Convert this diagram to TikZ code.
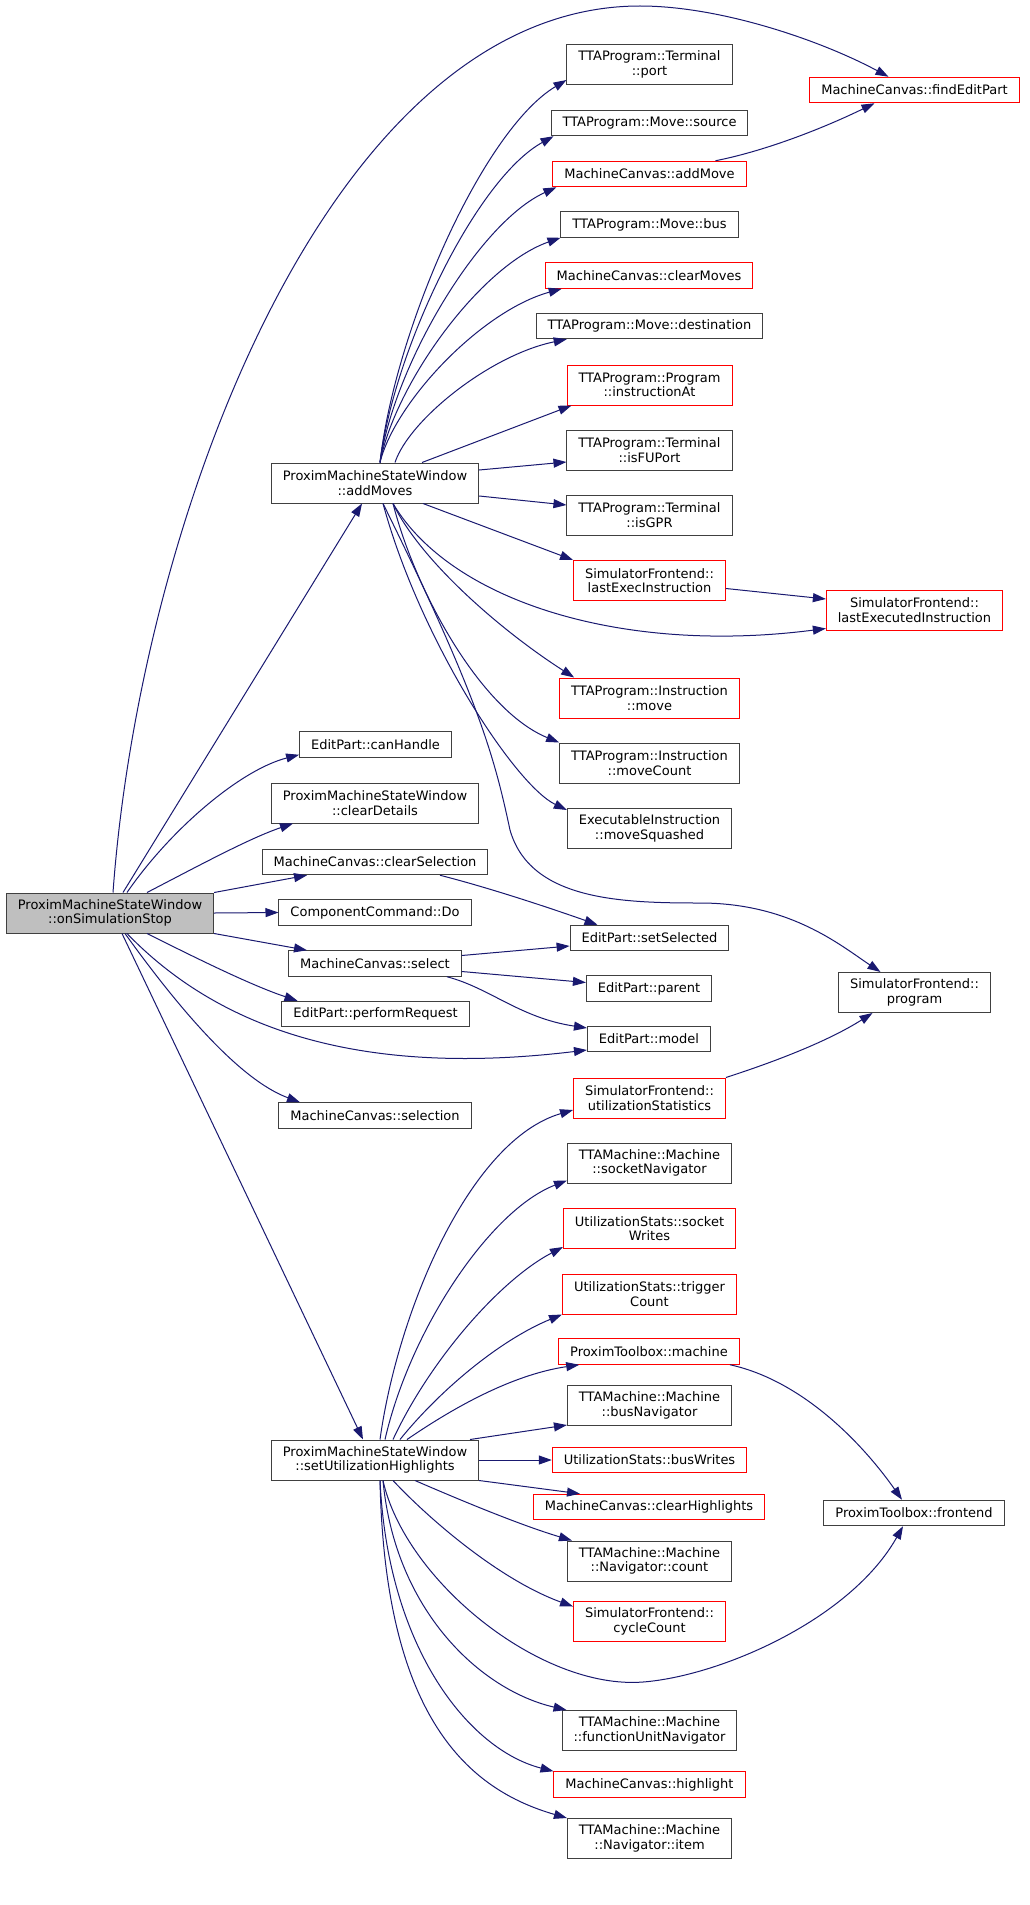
\documentclass[tikz,border=0pt]{standalone}
\usepackage{fontspec}
\setmainfont{DejaVu Sans}
\usepackage{tikz}
\usetikzlibrary{arrows.meta}

\definecolor{edgeblue}{RGB}{25,25,112}
\definecolor{nodeborder}{RGB}{64,64,64}
\definecolor{rootfill}{RGB}{191,191,191}

\begin{document}
\begin{tikzpicture}[x=1pt, y=-1pt,
            fn/.style={draw=nodeborder, line width=1pt, fill=white, inner xsep=11.5pt, inner ysep=2pt,
                minimum height=25.5pt, align=center, font=\fontsize{13}{14.7}\selectfont},
            fnred/.style={fn, draw=red},
            twoline/.style={minimum height=40pt},
            call/.style={edgeblue, line width=1pt, -{Triangle[length=13pt, width=9pt]}}]
            % Canvas
            \fill[white] (0,0) rectangle (1029,1905);
            \useasboundingbox (0,0) rectangle (1029,1905);

            % Caller and its direct callees
            \node[fn, twoline, fill=rootfill] (root) at (110,913) {ProximMachineStateWindow\\::onSimulationStop};
            \node[fn, twoline] (addMoves) at (375,483) {ProximMachineStateWindow\\::addMoves};
            \node[fn] (canHandle) at (375.5,744.5) {EditPart::canHandle};
            \node[fn, twoline] (clearDetails) at (375,803) {ProximMachineStateWindow\\::clearDetails};
            \node[fn] (clearSel) at (375,862) {MachineCanvas::clearSelection};
            \node[fn] (doCmd) at (375,912.5) {ComponentCommand::Do};
            \node[fn] (select) at (375,963.5) {MachineCanvas::select};
            \node[fn] (perfReq) at (375.5,1014) {EditPart::performRequest};
            \node[fn] (selection) at (375,1115.5) {MachineCanvas::selection};
            \node[fn, twoline] (setUtil) at (375,1460) {ProximMachineStateWindow\\::setUtilizationHighlights};

            % Second column
            \node[fn, twoline] (port) at (649.5,64.5) {TTAProgram::Terminal\\::port};
            \node[fn] (source) at (649.5,123) {TTAProgram::Move::source};
            \node[fnred] (addMove) at (649.5,174) {MachineCanvas::addMove};
            \node[fn] (bus) at (649.5,224.5) {TTAProgram::Move::bus};
            \node[fnred] (clearMoves) at (649,275.5) {MachineCanvas::clearMoves};
            \node[fn] (dest) at (649.5,326) {TTAProgram::Move::destination};
            \node[fnred, twoline] (instrAt) at (649.5,385) {TTAProgram::Program\\::instructionAt};
            \node[fn, twoline] (isFUPort) at (649.5,450) {TTAProgram::Terminal\\::isFUPort};
            \node[fn, twoline] (isGPR) at (649.5,515) {TTAProgram::Terminal\\::isGPR};
            \node[fnred, twoline] (lastExec) at (649.5,580.5) {SimulatorFrontend::\\lastExecInstruction};
            \node[fnred, twoline] (instrMove) at (649.5,698) {TTAProgram::Instruction\\::move};
            \node[fn, twoline] (moveCount) at (649.5,763) {TTAProgram::Instruction\\::moveCount};
            \node[fn, twoline] (moveSquashed) at (649.5,828.5) {ExecutableInstruction\\::moveSquashed};
            \node[fn] (setSelected) at (649.5,938) {EditPart::setSelected};
            \node[fn] (parent) at (649,988.5) {EditPart::parent};
            \node[fn] (model) at (649,1039) {EditPart::model};
            \node[fnred, twoline] (utilStats) at (649.5,1098) {SimulatorFrontend::\\utilizationStatistics};
            \node[fn, twoline] (socketNav) at (649.5,1163) {TTAMachine::Machine\\::socketNavigator};
            \node[fnred, twoline] (socketWrites) at (649.5,1228.5) {UtilizationStats::socket\\Writes};
            \node[fnred, twoline] (triggerCount) at (649.5,1294) {UtilizationStats::trigger\\Count};
            \node[fnred] (machine) at (649,1351.5) {ProximToolbox::machine};
            \node[fn, twoline] (busNav) at (649.5,1405.5) {TTAMachine::Machine\\::busNavigator};
            \node[fnred] (busWrites) at (649.5,1460) {UtilizationStats::busWrites};
            \node[fnred] (clearHl) at (649,1507) {MachineCanvas::clearHighlights};
            \node[fn, twoline] (navCount) at (649.5,1561) {TTAMachine::Machine\\::Navigator::count};
            \node[fnred, twoline] (cycleCount) at (649.5,1621.5) {SimulatorFrontend::\\cycleCount};
            \node[fn, twoline] (fuNav) at (649.5,1730.5) {TTAMachine::Machine\\::functionUnitNavigator};
            \node[fnred] (highlight) at (649.5,1784.5) {MachineCanvas::highlight};
            \node[fn, twoline] (navItem) at (649.5,1838.5) {TTAMachine::Machine\\::Navigator::item};

            % Third column
            \node[fnred] (findEditPart) at (914.5,90) {MachineCanvas::findEditPart};
            \node[fnred, twoline] (lastExecuted) at (914.5,610) {SimulatorFrontend::\\lastExecutedInstruction};
            \node[fn, twoline] (program) at (914.5,992.5) {SimulatorFrontend::\\program};
            \node[fn] (frontend) at (914,1513) {ProximToolbox::frontend};

            % Calls from onSimulationStop
            \draw[call] ([xshift=3pt]root.north) .. controls (140,520) and (330,6) .. (640,6)
                .. controls (720,6) and (820,40) .. ([xshift=-26pt]findEditPart.north);
            \draw[call] ([xshift=13pt]root.north) -- ([xshift=-13pt]addMoves.south);
            \draw[call] ([xshift=17pt]root.north) .. controls (170,830) and (240,770) .. ([yshift=3pt]canHandle.south west);
            \draw[call] ([xshift=37pt]root.north) .. controls (200,865) and (250,838) .. ([xshift=-82pt]clearDetails.south);
            \draw[call] (root.north east) -- ([xshift=-68pt]clearSel.south);
            \draw[call] (root.east) -- (doCmd.west);
            \draw[call] (root.south east) -- ([xshift=-68pt]select.north);
            \draw[call] ([xshift=37pt]root.south) .. controls (190,955) and (250,985) .. ([xshift=-78pt]perfReq.north);
            \draw[call] ([xshift=17pt]root.south) .. controls (230,1040) and (380,1075) .. ([yshift=-11pt]model.west);
            \draw[call] ([xshift=15pt]root.south) .. controls (180,1010) and (240,1080) .. ([xshift=-75pt]selection.north);
            \draw[call] ([xshift=12pt]root.south) -- ([xshift=-12pt]setUtil.north);

            % Calls from addMoves
            \draw[call] ([xshift=5pt]addMoves.north) .. controls (395,329) and (483,130) .. ([yshift=5pt]port.south west);
            \draw[call] ([xshift=5pt]addMoves.north) .. controls (394,349) and (476,179) .. ([xshift=3pt]source.south west);
            \draw[call] ([xshift=5pt]addMoves.north) .. controls (394,366) and (478,223) .. ([xshift=4pt]addMove.south west);
            \draw[call] ([xshift=5pt]addMoves.north) .. controls (395,384) and (480,266) .. (bus.south west);
            \draw[call] ([xshift=5pt]addMoves.north) .. controls (395,402) and (481,311) .. ([xshift=17pt]clearMoves.south west);
            \draw[call] ([xshift=20pt]addMoves.north) .. controls (409,420) and (490,355) .. ([xshift=31pt]dest.south west);
            \draw[call] ([xshift=47pt]addMoves.north) -- ([xshift=5pt]instrAt.south west);
            \draw[call] ([yshift=13pt]addMoves.east) -- ([yshift=-12pt]isFUPort.west);
            \draw[call] ([yshift=-13pt]addMoves.east) -- ([yshift=10pt]isGPR.west);
            \draw[call] ([xshift=48pt]addMoves.south) -- (lastExec.north west);
            \draw[call] ([xshift=18pt]addMoves.south) .. controls (450,600) and (620,655) .. ([yshift=2pt]lastExecuted.south west);
            \draw[call] ([xshift=18pt]addMoves.south) .. controls (420,560) and (500,630) .. ([xshift=15pt]instrMove.north west);
            \draw[call] ([xshift=18pt]addMoves.south) .. controls (415,590) and (480,710) .. (moveCount.north west);
            \draw[call] ([xshift=8pt]addMoves.south) .. controls (420,640) and (515,785) .. ([yshift=-2pt]moveSquashed.north west);
            \draw[call] ([xshift=8pt]addMoves.south) .. controls (480,700) and (495,760) .. (510,830)
                .. controls (530,900) and (620,903) .. (700,903)
                .. controls (790,903) and (840,945) .. ([xshift=-34pt]program.north);

            % Calls between callees
            \draw[call] ([xshift=66pt]addMove.north) .. controls (770,150) and (830,125) .. ([xshift=-40pt]findEditPart.south);
            \draw[call] ([yshift=-8pt]lastExec.east) -- ([yshift=11pt]lastExecuted.west);
            \draw[call] ([xshift=65pt]clearSel.south) .. controls (490,888) and (550,908) .. ([xshift=-52pt]setSelected.north);
            \draw[call] ([yshift=8pt]select.east) -- ([yshift=-8pt]setSelected.west);
            \draw[call] ([yshift=-8pt]select.east) -- ([yshift=6pt]parent.west);
            \draw[call] ([xshift=72pt]select.south) .. controls (490,988) and (520,1018) .. ([yshift=11pt]model.west);
            \draw[call] (utilStats.north east) .. controls (780,1060) and (830,1040) .. ([xshift=-42pt]program.south);
            \draw[call] ([xshift=81pt]machine.south) .. controls (800,1380) and (860,1440) .. ([xshift=-12pt]frontend.north);

            % Calls from setUtilizationHighlights
            \draw[call] ([xshift=5pt]setUtil.north) .. controls (398,1310) and (470,1140) .. ([yshift=-12pt]utilStats.west);
            \draw[call] ([xshift=10pt]setUtil.north) .. controls (410,1330) and (490,1210) .. ([yshift=3pt]socketNav.south west);
            \draw[call] ([xshift=18pt]setUtil.north) .. controls (430,1360) and (500,1280) .. ([yshift=2pt]socketWrites.south west);
            \draw[call] ([xshift=25pt]setUtil.north) .. controls (440,1390) and (500,1340) .. (triggerCount.south west);
            \draw[call] ([xshift=32pt]setUtil.north) .. controls (450,1410) and (510,1375) .. ([xshift=21pt]machine.south west);
            \draw[call] ([xshift=95pt]setUtil.north) -- ([yshift=1pt]busNav.south west);
            \draw[call] (setUtil.east) -- (busWrites.west);
            \draw[call] (setUtil.south east) -- ([xshift=-69pt]clearHl.north);
            \draw[call] ([xshift=40pt]setUtil.south) .. controls (460,1500) and (520,1525) .. ([xshift=5pt]navCount.north west);
            \draw[call] ([xshift=18pt]setUtil.south) .. controls (430,1520) and (500,1580) .. ([yshift=15pt]cycleCount.west);
            \draw[call] ([xshift=8pt]setUtil.south) .. controls (405,1580) and (540,1690) .. (643,1682)
                .. controls (720,1676) and (850,1620) .. ([xshift=-11pt]frontend.south);
            \draw[call] ([xshift=8pt]setUtil.south) .. controls (395,1610) and (480,1690) .. ([xshift=5pt]fuNav.north west);
            \draw[call] ([xshift=5pt]setUtil.south) .. controls (388,1650) and (470,1750) .. (highlight.north west);
            \draw[call] ([xshift=5pt]setUtil.south) .. controls (385,1720) and (470,1790) .. (navItem.north west);
        \end{tikzpicture}
\end{document}
